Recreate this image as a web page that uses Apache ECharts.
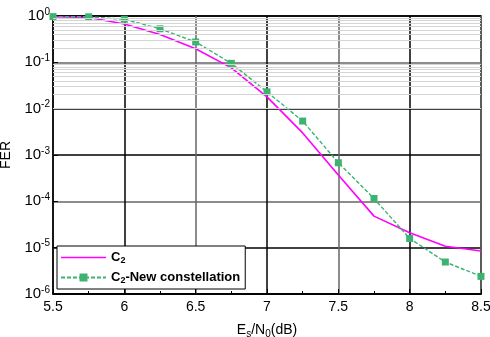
<!DOCTYPE html>
<html>
<head>
<meta charset="utf-8">
<script src="https://cdn.jsdelivr.net/npm/echarts@6/dist/echarts.min.js"></script>
<style>
  html, body { margin: 0; padding: 0; background: #fff; }
  #chart { width: 490px; height: 337px; }
</style>
</head>
<body>
<div id="chart"></div>
<script>
// Es/N0 in dB
const snr = [5.5, 5.75, 6, 6.25, 6.5, 6.75, 7, 7.25, 7.5, 7.75, 8, 8.25, 8.5]
// FER
const ferC2 = [0.96, 0.93, 0.67, 0.40, 0.197, 0.076, 0.018, 0.003, 3.7e-4, 4.8e-5, 2.1e-5, 1.07e-5, 8.5e-6]
const ferNew = [0.97, 0.96, 0.85, 0.53, 0.275, 0.095, 0.023, 0.0054, 6.8e-4, 1.15e-4, 1.58e-5, 4.9e-6, 2.4e-6]

const decades = [-6, -5, -4, -3, -2, -1]
const minorSteps = [2, 3, 4, 5, 6, 7, 8, 9]

const font = 'Liberation Sans, Arial, sans-serif'
const minorLines = []
decades.forEach((d) => {
	minorSteps.forEach((m) => minorLines.push({ yAxis: m * Math.pow(10, d) }))
})

const chart = echarts.init(document.getElementById('chart'))

chart.setOption({
	animation: false,
	backgroundColor: '#fff',
	textStyle: { fontFamily: font },
	grid: {
		left: 53,
		right: 9,
		top: 16,
		bottom: 43,
		outerBoundsMode: 'none',
		containLabel: false,
		show: true,
		borderColor: '#000',
		borderWidth: 1.5
	},
	legend: {
		orient: 'vertical',
		left: 57,
		top: 246,
		padding: [5, 5, 4, 3],
		itemGap: 6,
		itemWidth: 45,
		itemHeight: 10,
		backgroundColor: '#fff',
		borderColor: '#000',
		borderWidth: 1,
		borderRadius: 0,
		data: [
			{ name: 'C2', icon: 'path://M0,0H90V3H0Z' },
			{ name: 'C2-New constellation' }
		],
		formatter: function (name) {
			if (name === 'C2') return '{b|C}{s|2}'
			return '{b|C}{s|2}{b|-New constellation}'
		},
		textStyle: {
			fontFamily: font,
			rich: {
				b: { fontSize: 13, fontWeight: 'bold', color: '#000', fontFamily: font },
				s: { fontSize: 9, fontWeight: 'bold', color: '#000', verticalAlign: 'bottom', padding: [6, 0, 0, 0], fontFamily: font }
			}
		}
	},
	xAxis: {
		type: 'value',
		min: 5.5,
		max: 8.5,
		interval: 0.5,
		name: '{n|E}{s|s}{n|/N}{s|0}{n|(dB)}',
		nameLocation: 'middle',
		nameGap: 28,
		nameTextStyle: {
			rich: {
				n: { fontSize: 14, color: '#000', fontFamily: font },
				s: { fontSize: 10, color: '#000', verticalAlign: 'bottom', padding: [7, 0, 0, 0], fontFamily: font }
			}
		},
		axisLine: { show: true, lineStyle: { color: '#000', width: 1.5 } },
		axisTick: { show: true, inside: true, length: 5, lineStyle: { color: '#000' } },
		minorTick: { show: true, splitNumber: 2, length: 3, lineStyle: { color: '#000' } },
		axisLabel: { color: '#000', fontSize: 14, margin: 6, fontFamily: font },
		splitLine: { show: true, lineStyle: { color: ['#666', '#000'], width: 1.5 } }
	},
	yAxis: {
		type: 'log',
		logBase: 10,
		min: 1e-6,
		max: 1,
		name: 'FER',
		nameLocation: 'middle',
		nameGap: 38,
		nameTextStyle: { color: '#000', fontSize: 14, fontFamily: font },
		axisLine: { show: true, lineStyle: { color: '#000', width: 1.5 } },
		axisTick: { show: true, inside: true, length: 5, lineStyle: { color: '#000' } },
		axisLabel: {
			margin: 3,
			formatter: function (v) {
				return '{b|10}{e|' + Math.round(Math.log10(v)) + '}'
			},
			rich: {
				b: { fontSize: 15, color: '#000', fontFamily: font },
				e: { fontSize: 10, color: '#000', verticalAlign: 'top', padding: [0, 0, 8, 0], fontFamily: font }
			}
		},
		splitLine: {
			show: true,
			lineStyle: { color: ['#000', '#000', '#666', '#000', '#000', '#666', '#000'], width: 1.5 }
		}
	},
	series: [
		{
			name: 'grid-minor',
			type: 'line',
			data: [],
			z: 1,
			silent: true,
			markLine: {
				silent: true,
				symbol: 'none',
				label: { show: false },
				lineStyle: { color: '#d4d4d4', type: 'solid', width: 1 },
				data: minorLines
			}
		},
		{
			name: 'C2',
			type: 'line',
			z: 3,
			symbol: 'none',
			lineStyle: { color: '#ff00ff', width: 1.6 },
			itemStyle: { color: '#ff00ff' },
			data: snr.map((x, i) => [x, ferC2[i]])
		},
		{
			name: 'C2-New constellation',
			type: 'line',
			z: 4,
			symbol: 'rect',
			symbolSize: 7,
			lineStyle: { color: '#3cb371', width: 1.4, type: [4, 2] },
			itemStyle: { color: '#3cb371' },
			data: snr.map((x, i) => [x, ferNew[i]])
		}
	]
})
</script>
</body>
</html>
